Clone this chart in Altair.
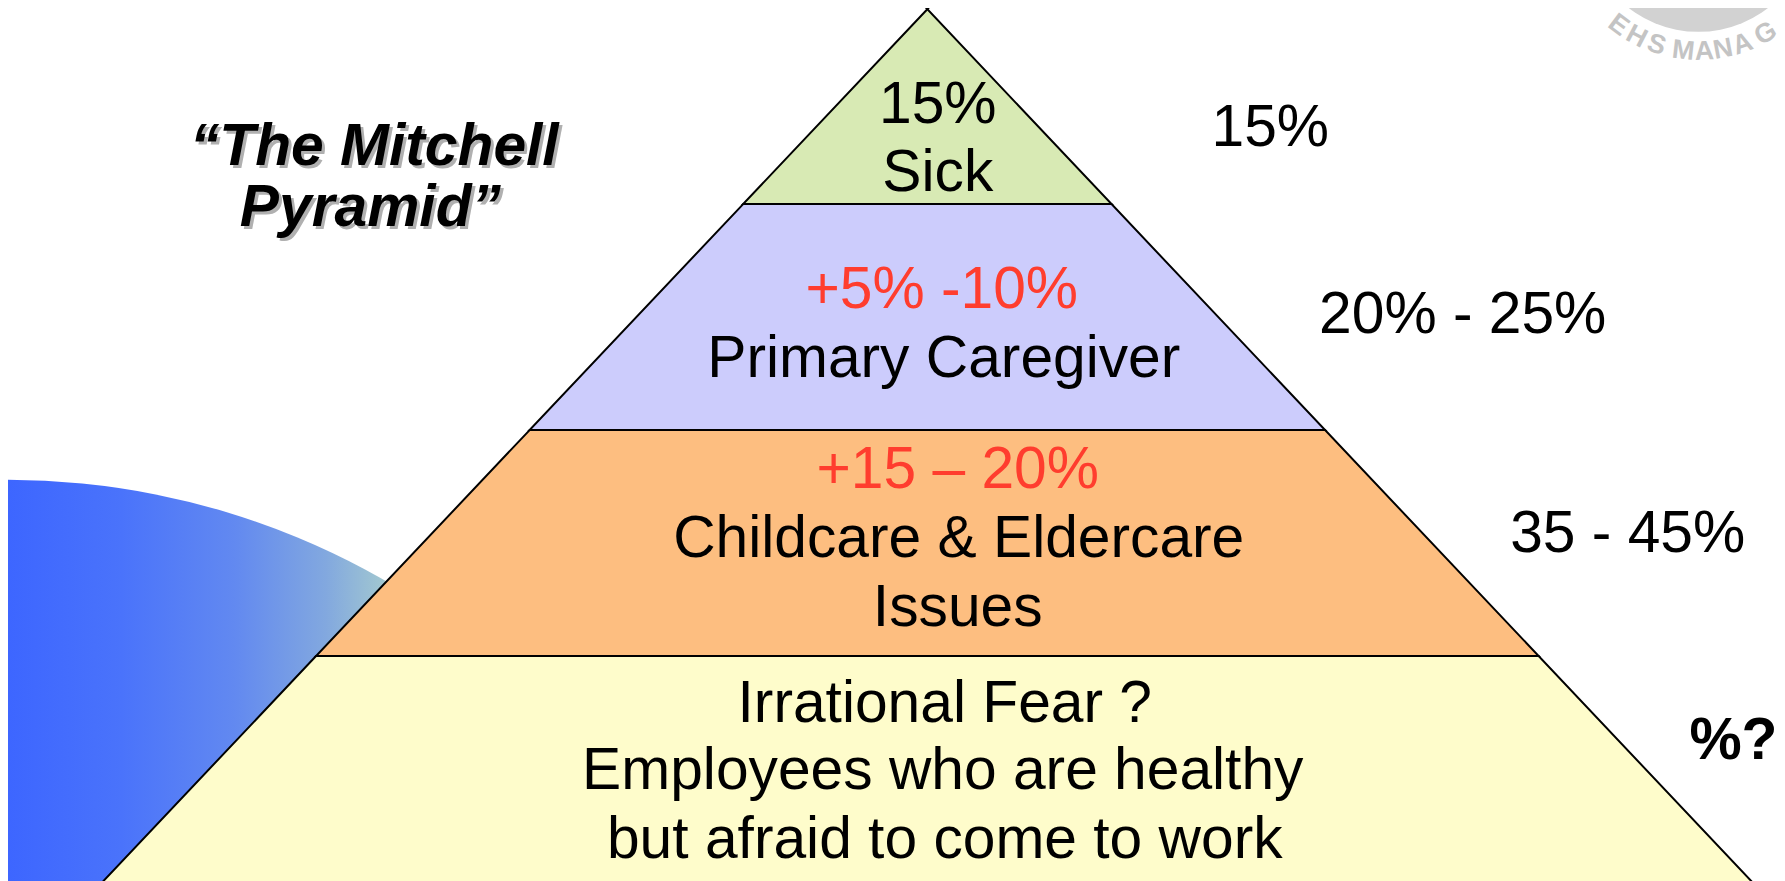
import math
import altair as alt
import pandas as pd

# ---------------- data ----------------
layer_names = ["Sick", "Primary Caregiver", "Childcare & Eldercare Issues", "Irrational Fear"]
layer_colors = ["#d8eab4", "#ccccfc", "#fdbe80", "#fefccb"]
layer_bounds_y = [7, 203, 430, 657, 900]          # horizontal dividing lines (px)

inner_text = ["15%", "Sick",
              "+5% -10%", "Primary Caregiver",
              "+15 \u2013 20%", "Childcare & Eldercare", "Issues",
              "Irrational Fear ?", "Employees who are healthy", "but afraid to come to work"]
inner_color = ["#000000", "#000000",
               "#ff3d2e", "#000000",
               "#ff3d2e", "#000000", "#000000",
               "#000000", "#000000", "#000000"]
inner_x = [942, 942, 946, 948, 962, 963, 962, 949, 947, 949]
inner_y = [122, 190, 307, 377, 488, 558, 627, 723, 791, 860]

side_text = ["15%", "20% - 25%", "35 - 45%", "%?"]
side_weight = ["normal", "normal", "normal", "bold"]
side_x = [1217, 1325, 1517, 1697]
side_y = [145, 332, 552, 760]

title_lines = ["\u201cThe Mitchell", "Pyramid\u201d"]
title_x = [376, 372]
title_y = [164, 225]

seal_letters = ["E", "H", "S", "M", "A", "N", "A", "G"]
seal_angles = [-36.8, -27.6, -18.3, -6.5, 2.6, 10.7, 19.4, 30.3]

# ---------------- geometry / layout ----------------
X0, X1, Y0, Y1 = 8, 1785, 8, 881
APEX_X, APEX_Y, SLOPE = 931.5, 7.2, 0.945
FONT = "Liberation Sans"

xs = alt.Scale(domain=[X0, X1], nice=False, zero=False)
ys = alt.Scale(domain=[Y0, Y1], nice=False, zero=False, reverse=True)
X = lambda f: alt.X(f, type="quantitative", scale=xs, axis=None)
Y = lambda f: alt.Y(f, type="quantitative", scale=ys, axis=None)

rows = []
for i, name in enumerate(layer_names):
    for yv in (layer_bounds_y[i], layer_bounds_y[i + 1]):
        half = SLOPE * (yv - APEX_Y)
        rows.append({"layer": name, "y": yv, "xl": APEX_X - half, "xr": APEX_X + half})
pyr_df = pd.DataFrame(rows)

pyramid = alt.Chart(pyr_df).mark_area(
    orient="horizontal", stroke="black", strokeWidth=2, interpolate="linear"
).encode(
    y=Y("y"), x=X("xl"), x2="xr",
    color=alt.Color("layer:N", scale=alt.Scale(domain=layer_names, range=layer_colors), legend=None),
)

# blue quarter disc behind the pyramid
blue_df = pd.DataFrame({"cx": [8], "cy": [1240]})
blue = alt.Chart(blue_df).mark_arc(
    theta=0, theta2=math.pi / 2, radius=760,
    fill=alt.Gradient(
        gradient="linear", x1=0, x2=1, y1=0, y2=0,
        stops=[
            alt.GradientStop(offset=0.0, color="#3d66ff"),
            alt.GradientStop(offset=0.15, color="#4a73fb"),
            alt.GradientStop(offset=0.3, color="#6289f0"),
            alt.GradientStop(offset=0.42, color="#82a8df"),
            alt.GradientStop(offset=0.5, color="#a2c8d0"),
            alt.GradientStop(offset=1.0, color="#c8e4c4"),
        ],
    ),
).encode(x=X("cx"), y=Y("cy"))

# watermark seal (top right)
SEAL_CX, SEAL_CY, SEAL_R = 1706, -84, 134
seal_df = pd.DataFrame({"cx": [SEAL_CX], "cy": [SEAL_CY]})
seal = alt.Chart(seal_df).mark_arc(
    theta=0, theta2=2 * math.pi, radius=114, fill="#d2d2d2"
).encode(x=X("cx"), y=Y("cy"))

letters_df = pd.DataFrame({
    "t": seal_letters,
    "x": [SEAL_CX + SEAL_R * math.sin(math.radians(a)) for a in seal_angles],
    "y": [SEAL_CY + SEAL_R * math.cos(math.radians(a)) for a in seal_angles],
    "rot": [(-a) % 360 for a in seal_angles],
})
seal_letters_layer = alt.Chart(letters_df).mark_text(
    font=FONT, fontSize=27, fontWeight="bold", color="#c4c4c4",
    align="center", baseline="middle"
).encode(x=X("x"), y=Y("y"), text="t:N", angle=alt.Angle("rot:Q", scale=None))

# texts inside pyramid
inner_df = pd.DataFrame({"t": inner_text, "x": inner_x, "y": inner_y, "c": inner_color})
inner = alt.Chart(inner_df).mark_text(
    font=FONT, fontSize=59, align="center", baseline="alphabetic"
).encode(x=X("x"), y=Y("y"), text="t:N", color=alt.Color("c:N", scale=None))

# side percentages
side_df = pd.DataFrame({"t": side_text, "x": side_x, "y": side_y, "w": side_weight})
side_normal = alt.Chart(side_df[side_df.w == "normal"]).mark_text(
    font=FONT, fontSize=59, align="left", baseline="alphabetic", color="black"
).encode(x=X("x"), y=Y("y"), text="t:N")
side_bold = alt.Chart(side_df[side_df.w == "bold"]).mark_text(
    font=FONT, fontSize=59, fontWeight="bold", align="left", baseline="alphabetic", color="black"
).encode(x=X("x"), y=Y("y"), text="t:N")

# title with shadow
title_df = pd.DataFrame({"t": title_lines, "x": title_x, "y": title_y})
title_shadow = alt.Chart(title_df).mark_text(
    font=FONT, fontSize=59, fontWeight="bold", fontStyle="italic",
    align="center", baseline="alphabetic", color="#b0b0b0", dx=3, dy=3
).encode(x=X("x"), y=Y("y"), text="t:N")
title = alt.Chart(title_df).mark_text(
    font=FONT, fontSize=59, fontWeight="bold", fontStyle="italic",
    align="center", baseline="alphabetic", color="black"
).encode(x=X("x"), y=Y("y"), text="t:N")

chart = alt.layer(
    blue, seal, seal_letters_layer, pyramid, inner, side_normal, side_bold, title_shadow, title
).properties(
    width=X1 - X0, height=Y1 - Y0, padding=0, autosize="none", background="white"
).configure_view(stroke=None)

chart.save("out.html", embed_options={"renderer": "svg", "actions": False})
